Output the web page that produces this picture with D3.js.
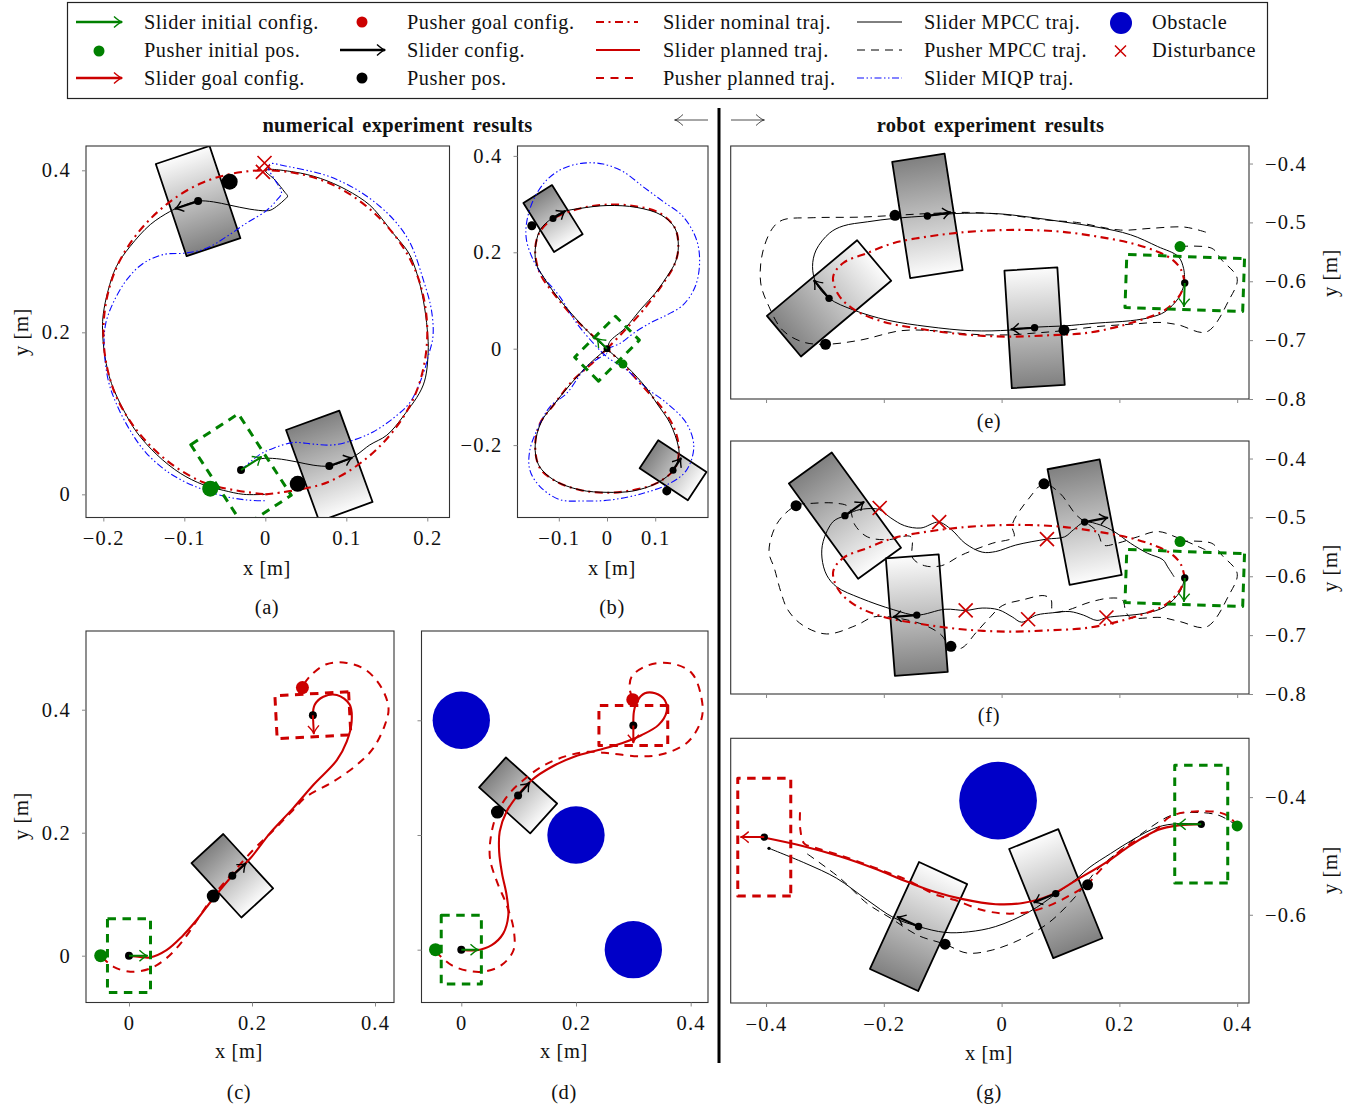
<!DOCTYPE html>
<html>
<head>
<meta charset="utf-8">
<script src="https://cdnjs.cloudflare.com/ajax/libs/d3/7.8.5/d3.min.js"></script>
<style>
	html, body { margin: 0; padding: 0; background: #fff; }
	svg { display: block; }
	text { font-family: "Liberation Serif", serif; fill: #111; }
</style>
</head>
<body>
<div id="chart"></div>
<script>
// panel (a) circle tracking [x, y] in metres
var aNominal = [[0,0],[0.077,0.015],[0.141,0.059],[0.185,0.123],[0.2,0.2],[0.185,0.277],[0.141,0.341],[0.077,0.385],[0,0.4],[-0.077,0.385],[-0.141,0.341],[-0.185,0.277],[-0.2,0.2],[-0.185,0.123],[-0.141,0.059],[-0.077,0.015],[0,0]];
var aMpcc = [[-0.03,0.03],[-0.017,0.039],[-0.005,0.044],[0.014,0.044],[0.039,0.04],[0.059,0.036],[0.079,0.035],[0.1,0.042],[0.113,0.049],[0.129,0.061],[0.15,0.073],[0.17,0.096],[0.195,0.135],[0.201,0.174],[0.2,0.203],[0.195,0.24],[0.187,0.273],[0.177,0.298],[0.158,0.322],[0.148,0.335],[0.129,0.357],[0.1,0.376],[0.068,0.39],[0.035,0.398],[0,0.4],[0.012,0.388],[0.024,0.373],[0.0275,0.368],[0.024,0.364],[0.016,0.357],[0.007,0.351],[0.001,0.35],[-0.019,0.352],[-0.044,0.357],[-0.064,0.361],[-0.083,0.362],[-0.105,0.355],[-0.118,0.349],[-0.142,0.333],[-0.167,0.306],[-0.184,0.281],[-0.194,0.252],[-0.2,0.223],[-0.201,0.203],[-0.198,0.17],[-0.19,0.137],[-0.175,0.104],[-0.159,0.077],[-0.134,0.049],[-0.105,0.026],[-0.077,0.012],[-0.052,0.005],[-0.027,0],[0,0]];
var aMiqp = [[-0.03,0.03],[-0.007,0.049],[0.01,0.057],[0.035,0.064],[0.059,0.062],[0.084,0.061],[0.109,0.067],[0.133,0.077],[0.158,0.094],[0.179,0.114],[0.195,0.149],[0.201,0.17],[0.207,0.195],[0.205,0.228],[0.195,0.265],[0.179,0.31],[0.162,0.335],[0.142,0.355],[0.113,0.376],[0.08,0.392],[0.051,0.4],[0.026,0.405],[0.006,0.408],[0.004,0.402],[0.012,0.388],[0.02,0.372],[0.014,0.363],[0.001,0.35],[-0.023,0.335],[-0.048,0.318],[-0.072,0.304],[-0.097,0.298],[-0.126,0.296],[-0.151,0.285],[-0.171,0.265],[-0.188,0.236],[-0.197,0.211],[-0.199,0.182],[-0.194,0.141],[-0.184,0.112],[-0.167,0.079],[-0.147,0.051],[-0.118,0.026],[-0.085,0.009],[-0.052,-0.002],[-0.023,-0.007],[0,-0.008]];
// sliders are [x, y, heading in degrees]
var aSliders = [[-0.083,0.362,198.5],[0.079,0.035,20]];
var aPushers = [[-0.044,0.386],[0.04,0.013]];
var aStart = [-0.03,0.03,33];
var aGreen = [-0.068,0.007];
var aCrosses = [[-0.001,0.409],[-0.003,0.398]];

// panel (b) figure eight
var bNominal = [[0,0],[0.034,0.035],[0.075,0.08],[0.117,0.136],[0.141,0.177],[0.148,0.212],[0.141,0.25],[0.11,0.281],[0.062,0.295],[0,0.299],[-0.056,0.291],[-0.111,0.27],[-0.139,0.243],[-0.149,0.205],[-0.139,0.156],[-0.111,0.115],[-0.07,0.066],[-0.035,0.032],[0,0],[0.041,-0.041],[0.075,-0.079],[0.117,-0.127],[0.141,-0.169],[0.149,-0.21],[0.141,-0.248],[0.103,-0.279],[0.055,-0.293],[0,-0.299],[-0.056,-0.293],[-0.104,-0.276],[-0.139,-0.248],[-0.149,-0.2],[-0.139,-0.155],[-0.111,-0.117],[-0.07,-0.065],[-0.035,-0.034],[0,0]];
var bMpcc = [[0,-0.003],[0.006,0.015],[0.037,0.042],[0.072,0.084],[0.1,0.115],[0.124,0.149],[0.142,0.18],[0.148,0.212],[0.141,0.25],[0.113,0.277],[0.062,0.293],[0,0.297],[-0.056,0.291],[-0.091,0.284],[-0.115,0.27],[-0.139,0.246],[-0.149,0.205],[-0.146,0.174],[-0.132,0.149],[-0.111,0.118],[-0.08,0.08],[-0.039,0.035],[0,-0.001],[0.041,-0.037],[0.082,-0.082],[0.103,-0.113],[0.131,-0.155],[0.148,-0.203],[0.149,-0.221],[0.138,-0.252],[0.103,-0.279],[0.055,-0.295],[0,-0.298],[-0.056,-0.293],[-0.111,-0.272],[-0.142,-0.241],[-0.149,-0.2],[-0.136,-0.151],[-0.111,-0.117],[-0.077,-0.075],[-0.035,-0.03],[0,0]];
var bMiqp = [[0,0],[0.027,0.011],[0.055,0.032],[0.089,0.053],[0.124,0.07],[0.158,0.091],[0.183,0.129],[0.192,0.177],[0.186,0.225],[0.158,0.274],[0.117,0.305],[0.075,0.336],[0.034,0.367],[-0.008,0.383],[-0.049,0.385],[-0.091,0.374],[-0.125,0.35],[-0.153,0.308],[-0.167,0.26],[-0.167,0.225],[-0.153,0.184],[-0.132,0.149],[-0.098,0.108],[-0.063,0.053],[-0.028,0.011],[0,-0.017],[0.041,-0.044],[0.082,-0.082],[0.124,-0.113],[0.165,-0.155],[0.18,-0.203],[0.165,-0.252],[0.131,-0.279],[0.075,-0.3],[0.006,-0.314],[-0.049,-0.316],[-0.098,-0.313],[-0.139,-0.286],[-0.16,-0.252],[-0.16,-0.21],[-0.142,-0.162],[-0.118,-0.12],[-0.084,-0.093],[-0.042,-0.037],[0,-0.01]];
var bSliders = [[-0.112,0.27,32],[0.137,-0.252,56.5]];
var bPushers = [[-0.156,0.255],[0.124,-0.295]];
var bStart = [0,0,135];
var bGreen = [0.033,-0.032];

// panel (c) planning without obstacles
var cSlider = [[0,0],[0.018,-0.002],[0.034,-0.003],[0.061,0.009],[0.086,0.031],[0.11,0.058],[0.137,0.093],[0.168,0.13],[0.197,0.158],[0.229,0.199],[0.267,0.24],[0.3,0.278],[0.338,0.318],[0.354,0.348],[0.362,0.38],[0.359,0.408],[0.338,0.424],[0.316,0.421],[0.302,0.408],[0.299,0.391]];
var cPusher = [[-0.044,-0.002],[-0.025,-0.018],[0.002,-0.026],[0.034,-0.021],[0.061,-0.004],[0.088,0.025],[0.118,0.069],[0.14,0.101],[0.168,0.134],[0.202,0.172],[0.235,0.204],[0.267,0.237],[0.289,0.259],[0.332,0.283],[0.37,0.31],[0.397,0.337],[0.416,0.375],[0.422,0.402],[0.411,0.435],[0.386,0.464],[0.354,0.476],[0.321,0.474],[0.294,0.454],[0.281,0.436]];
var cSliders = [[0.168,0.13,42.5]];
var cPushers = [[0.137,0.097]];
var cStart = [0,0,0];
var cGoal = [0.299,0.391,-87];
var cGreen = [-0.046,0];
var cRed = [0.282,0.436];

// panel (d) planning with obstacles
var dSlider = [[0,0],[0.027,-0.001],[0.053,0.008],[0.073,0.028],[0.082,0.06],[0.079,0.095],[0.071,0.133],[0.066,0.171],[0.067,0.206],[0.079,0.241],[0.099,0.27],[0.123,0.296],[0.158,0.319],[0.198,0.337],[0.239,0.348],[0.28,0.36],[0.314,0.374],[0.344,0.392],[0.358,0.415],[0.355,0.435],[0.338,0.447],[0.32,0.447],[0.306,0.432],[0.301,0.415],[0.3,0.391]];
var dPusher = [[-0.045,-0.003],[-0.017,-0.027],[0.012,-0.037],[0.041,-0.038],[0.07,-0.027],[0.091,-0.001],[0.091,0.037],[0.079,0.078],[0.062,0.119],[0.05,0.159],[0.052,0.2],[0.063,0.239],[0.082,0.27],[0.105,0.293],[0.14,0.319],[0.181,0.337],[0.221,0.345],[0.262,0.342],[0.314,0.337],[0.355,0.342],[0.396,0.363],[0.419,0.403],[0.419,0.438],[0.402,0.482],[0.367,0.499],[0.326,0.496],[0.297,0.476],[0.294,0.453],[0.3,0.435]];
var dSliders = [[0.099,0.269,48]];
var dPushers = [[0.063,0.24]];
var dStart = [0,0,0];
var dGoal = [0.3,0.391,-90];
var dGreen = [-0.045,0];
var dRed = [0.299,0.436];
var dObstacles = [[0,0.4,0.05],[0.2,0.2,0.05],[0.3,0,0.05]];

// robot nominal ellipse, shared by (e) and (f)
var robotNominal = [[0.311,-0.603],[0.305,-0.581],[0.291,-0.564],[0.265,-0.55],[0.219,-0.535],[0.162,-0.524],[0.104,-0.516],[0.047,-0.513],[0.001,-0.513],[-0.068,-0.517],[-0.125,-0.524],[-0.183,-0.535],[-0.228,-0.552],[-0.269,-0.569],[-0.286,-0.592],[-0.277,-0.623],[-0.249,-0.649],[-0.2,-0.669],[-0.137,-0.681],[-0.068,-0.69],[0.007,-0.694],[0.076,-0.692],[0.15,-0.687],[0.219,-0.671],[0.277,-0.649],[0.303,-0.623],[0.311,-0.603]];

var eMpcc = [[0.311,-0.603],[0.3,-0.629],[0.277,-0.652],[0.254,-0.661],[0.219,-0.667],[0.162,-0.671],[0.104,-0.676],[0.056,-0.678],[0.013,-0.683],[-0.051,-0.684],[-0.125,-0.677],[-0.194,-0.666],[-0.251,-0.649],[-0.293,-0.629],[-0.315,-0.603],[-0.321,-0.575],[-0.315,-0.547],[-0.292,-0.518],[-0.269,-0.506],[-0.228,-0.499],[-0.181,-0.493],[-0.126,-0.489],[-0.079,-0.485],[-0.01,-0.485],[0.047,-0.491],[0.104,-0.499],[0.162,-0.508],[0.219,-0.521],[0.265,-0.541],[0.3,-0.558],[0.309,-0.578],[0.311,-0.601]];
var ePusher = [[0.303,-0.541],[0.357,-0.544],[0.374,-0.564],[0.4,-0.595],[0.386,-0.632],[0.348,-0.686],[0.3,-0.674],[0.271,-0.67],[0.219,-0.673],[0.162,-0.677],[0.104,-0.684],[0.056,-0.688],[0.013,-0.691],[-0.051,-0.69],[-0.114,-0.684],[-0.171,-0.684],[-0.24,-0.7],[-0.299,-0.707],[-0.338,-0.703],[-0.372,-0.683],[-0.395,-0.643],[-0.409,-0.603],[-0.406,-0.552],[-0.389,-0.51],[-0.372,-0.496],[-0.32,-0.492],[-0.24,-0.491],[-0.181,-0.488],[-0.125,-0.485],[-0.056,-0.483],[0.007,-0.487],[0.076,-0.496],[0.127,-0.5],[0.202,-0.513],[0.254,-0.51],[0.311,-0.508],[0.348,-0.517]];
var eSliders = [[-0.126,-0.489,8.8],[-0.293,-0.629,130],[0.056,-0.679,183.6]];
var ePushers = [[-0.181,-0.488],[-0.299,-0.707],[0.106,-0.683]];
var eStart = [0.311,-0.603,-92];
var eGreen = [0.303,-0.541];

var fMpcc = [[0.311,-0.603],[0.303,-0.626],[0.277,-0.652],[0.242,-0.663],[0.179,-0.67],[0.162,-0.675],[0.139,-0.666],[0.116,-0.66],[0.087,-0.662],[0.059,-0.666],[0.034,-0.678],[0.018,-0.669],[-0.005,-0.657],[-0.033,-0.654],[-0.061,-0.658],[-0.096,-0.656],[-0.144,-0.666],[-0.183,-0.657],[-0.24,-0.637],[-0.28,-0.618],[-0.297,-0.598],[-0.305,-0.569],[-0.303,-0.541],[-0.286,-0.507],[-0.266,-0.497],[-0.246,-0.488],[-0.223,-0.485],[-0.207,-0.487],[-0.188,-0.501],[-0.165,-0.514],[-0.137,-0.518],[-0.107,-0.508],[-0.085,-0.521],[-0.062,-0.544],[-0.033,-0.559],[-0.01,-0.558],[0.024,-0.547],[0.076,-0.537],[0.107,-0.533],[0.122,-0.521],[0.141,-0.508],[0.168,-0.513],[0.191,-0.524],[0.219,-0.544],[0.248,-0.561],[0.274,-0.572],[0.282,-0.584],[0.293,-0.601]];
var fPusher = [[0.303,-0.541],[0.357,-0.544],[0.374,-0.564],[0.4,-0.595],[0.386,-0.632],[0.348,-0.686],[0.303,-0.677],[0.271,-0.67],[0.219,-0.67],[0.211,-0.66],[0.205,-0.64],[0.185,-0.637],[0.15,-0.644],[0.11,-0.658],[0.087,-0.66],[0.084,-0.64],[0.073,-0.633],[0.036,-0.64],[0.001,-0.65],[-0.019,-0.669],[-0.042,-0.694],[-0.068,-0.722],[-0.087,-0.722],[-0.102,-0.7],[-0.131,-0.683],[-0.177,-0.671],[-0.217,-0.669],[-0.246,-0.683],[-0.297,-0.698],[-0.338,-0.683],[-0.363,-0.657],[-0.375,-0.626],[-0.386,-0.586],[-0.395,-0.558],[-0.381,-0.51],[-0.349,-0.48],[-0.32,-0.476],[-0.28,-0.476],[-0.26,-0.482],[-0.249,-0.513],[-0.228,-0.533],[-0.194,-0.538],[-0.154,-0.533],[-0.151,-0.569],[-0.131,-0.582],[-0.102,-0.582],[-0.068,-0.564],[-0.016,-0.544],[0.021,-0.533],[0.018,-0.513],[0.047,-0.467],[0.072,-0.443],[0.099,-0.459],[0.127,-0.496],[0.162,-0.524],[0.173,-0.547],[0.196,-0.544],[0.231,-0.533],[0.265,-0.524],[0.3,-0.535],[0.346,-0.555]];
var fSliders = [[-0.266,-0.497,36],[0.141,-0.508,10.8],[-0.144,-0.666,184.4]];
var fPushers = [[-0.349,-0.48],[0.072,-0.443],[-0.086,-0.719]];
var fCrosses = [[-0.207,-0.484],[-0.106,-0.508],[0.077,-0.537],[-0.061,-0.658],[0.045,-0.673],[0.178,-0.67]];

var gSlider = [[0.339,-0.446],[0.3,-0.448],[0.265,-0.456],[0.219,-0.482],[0.179,-0.51],[0.127,-0.541],[0.082,-0.567],[0.036,-0.58],[-0.01,-0.582],[-0.068,-0.573],[-0.114,-0.561],[-0.16,-0.544],[-0.217,-0.521],[-0.274,-0.501],[-0.338,-0.483],[-0.402,-0.469]];
var gPusher = [[0.4,-0.449],[0.386,-0.433],[0.369,-0.426],[0.334,-0.424],[0.3,-0.428],[0.282,-0.436],[0.259,-0.459],[0.219,-0.479],[0.196,-0.496],[0.162,-0.53],[0.146,-0.548],[0.116,-0.567],[0.082,-0.584],[0.047,-0.595],[0.007,-0.598],[-0.033,-0.592],[-0.079,-0.575],[-0.114,-0.565],[-0.16,-0.541],[-0.194,-0.528],[-0.24,-0.511],[-0.28,-0.497],[-0.317,-0.486],[-0.335,-0.479],[-0.342,-0.453],[-0.342,-0.419]];
var gMpcc = [[0.339,-0.446],[0.3,-0.445],[0.265,-0.451],[0.225,-0.471],[0.185,-0.496],[0.15,-0.519],[0.127,-0.539],[0.093,-0.564],[0.047,-0.595],[-0.01,-0.62],[-0.056,-0.629],[-0.096,-0.63],[-0.141,-0.62],[-0.183,-0.605],[-0.228,-0.575],[-0.28,-0.538],[-0.332,-0.513],[-0.395,-0.487]];
var gMpccPusher = [[0.4,-0.449],[0.369,-0.431],[0.323,-0.426],[0.288,-0.431],[0.242,-0.459],[0.202,-0.49],[0.162,-0.524],[0.13,-0.564],[0.082,-0.612],[0.036,-0.64],[-0.016,-0.66],[-0.059,-0.665],[-0.096,-0.65],[-0.142,-0.635],[-0.188,-0.606],[-0.228,-0.581],[-0.274,-0.538],[-0.335,-0.493]];
var gSliders = [[0.092,-0.564,202],[-0.141,-0.62,155.4]];
var gPushers = [[0.146,-0.549],[-0.096,-0.65]];
var gStart = [0.339,-0.446,180];
var gGoal = [-0.403,-0.468,180];
var gGreen = [0.4,-0.449];
var gEnd = [-0.395,-0.487];
var gObstacles = [[-0.006,-0.406,0.066]];

// legend rows, one list per column
var legendCol1 = ["Slider initial config.", "Pusher initial pos.", "Slider goal config."];
var legendCol2 = ["Pusher goal config.", "Slider config.", "Pusher pos."];
var legendCol3 = ["Slider nominal traj.", "Slider planned traj.", "Pusher planned traj."];
var legendCol4 = ["Slider MPCC traj.", "Pusher MPCC traj.", "Slider MIQP traj."];
var legendCol5 = ["Obstacle", "Disturbance"];

var RED = "#cc0000", GREEN = "#008000", BLUE = "#0000c8", MIQP = "#0a0aff";
var STYLE = {
	nominal: {stroke: RED, width: 2.1, dash: "8,4.5,2,4.5"},
	planned: {stroke: RED, width: 2.1, dash: null},
	pusherPlanned: {stroke: RED, width: 2, dash: "8,6.5"},
	mpcc: {stroke: "#000", width: 1, dash: null},
	pusherMpcc: {stroke: "#000", width: 1, dash: "8,6"},
	miqp: {stroke: MIQP, width: 1.1, dash: "7,2.5,1.5,2.5,1.5,2.5"}
};

var svg = d3.select("#chart").append("svg").attr("width", 1363).attr("height", 1113);
var defs = svg.append("defs");
var gradId = 0, clipId = 0;

function tickText(d) {
	if (d === 0) return "0";
	return (d < 0 ? "\u2212" : "") + Math.abs(d).toFixed(1);
}

// corner of a slider box, local u along heading, v across it
function boxPoint(p, s, u, v) {
	var t = s[2] * Math.PI / 180;
	return [p.x(s[0] + Math.cos(t) * u - Math.sin(t) * v), p.y(s[1] + Math.sin(t) * u + Math.cos(t) * v)];
}

function boxPath(p, s) {
	var w = p.boxW / 2, h = p.boxH / 2;
	return d3.line()([boxPoint(p, s, -w, h), boxPoint(p, s, w, h), boxPoint(p, s, w, -h), boxPoint(p, s, -w, -h)]) + "Z";
}

function drawArrow(g, x1, y1, x2, y2, color, width, headWidth) {
	var a = Math.atan2(y2 - y1, x2 - x1);
	var back = 8, side = 5.5;
	var c = Math.cos(a), s = Math.sin(a);
	g.append("line").attr("x1", x1).attr("y1", y1).attr("x2", x2).attr("y2", y2)
		.attr("stroke", color).attr("stroke-width", width);
	var path = "M" + (x2 - back * c + side * s) + "," + (y2 - back * s - side * c) +
		"Q" + (x2 - 2 * c) + "," + (y2 - 2 * s) + " " + (x2 + 0.5 * c) + "," + (y2 + 0.5 * s) +
		"Q" + (x2 - 2 * c) + "," + (y2 - 2 * s) + " " + (x2 - back * c - side * s) + "," + (y2 - back * s + side * c);
	g.append("path").attr("d", path).attr("fill", "none").attr("stroke", color).attr("stroke-width", headWidth || 1.4);
}

function headingArrow(g, p, s, color, width) {
	var tip = boxPoint(p, s, p.arrowLen, 0);
	drawArrow(g, p.x(s[0]), p.y(s[1]), tip[0], tip[1], color, width);
}

function drawCross(g, cx, cy, r, width) {
	g.append("path")
		.attr("d", "M" + (cx - r) + "," + (cy - r) + "L" + (cx + r) + "," + (cy + r) + "M" + (cx - r) + "," + (cy + r) + "L" + (cx + r) + "," + (cy - r))
		.attr("stroke", RED).attr("stroke-width", width).attr("fill", "none");
}

function drawPanel(p) {
	p.x = d3.scaleLinear().domain(p.xDomain).range([p.left, p.right]);
	p.y = d3.scaleLinear().domain(p.yDomain).range([p.bottom, p.top]);

	var id = "clip" + (clipId++);
	defs.append("clipPath").attr("id", id).append("rect")
		.attr("x", p.left).attr("y", p.top)
		.attr("width", p.right - p.left).attr("height", p.bottom - p.top);
	var g = svg.append("g").attr("clip-path", "url(#" + id + ")");

	(p.obstacles || []).forEach(function (o) {
		g.append("circle").attr("cx", p.x(o[0])).attr("cy", p.y(o[1]))
			.attr("r", o[2] * (p.x(1) - p.x(0))).attr("fill", BLUE);
	});

	p.sliders.forEach(function (s) {
		var gid = "grad" + (gradId++);
		var dark = boxPoint(p, s, 0, p.boxH / 2), light = boxPoint(p, s, 0, -p.boxH / 2);
		var lg = defs.append("linearGradient").attr("id", gid).attr("gradientUnits", "userSpaceOnUse")
			.attr("x1", dark[0]).attr("y1", dark[1]).attr("x2", light[0]).attr("y2", light[1]);
		lg.append("stop").attr("offset", 0).attr("stop-color", "#808080");
		lg.append("stop").attr("offset", 1).attr("stop-color", "#fcfcfc");
		g.append("path").attr("d", boxPath(p, s)).attr("fill", "url(#" + gid + ")")
			.attr("stroke", "#000").attr("stroke-width", 1.8).attr("stroke-linejoin", "round");
	});

	var line = d3.line().x(function (d) { return p.x(d[0]); }).y(function (d) { return p.y(d[1]); })
		.curve(d3.curveCatmullRom.alpha(0.5));
	p.lines.forEach(function (l) {
		g.append("path").attr("d", line(l.data)).attr("fill", "none")
			.attr("stroke", l.style.stroke).attr("stroke-width", l.style.width)
			.attr("stroke-dasharray", l.style.dash);
	});

	[[p.start, GREEN], [p.goal, RED]].forEach(function (b) {
		if (!b[0]) return;
		g.append("path").attr("d", boxPath(p, b[0])).attr("fill", "none")
			.attr("stroke", b[1]).attr("stroke-width", 3)
			.attr("stroke-dasharray", "8.5,6.5").attr("stroke-linejoin", "round");
	});

	// pushers, slider centres, then the heading arrows
	p.pushers.forEach(function (d) {
		g.append("circle").attr("cx", p.x(d[0])).attr("cy", p.y(d[1])).attr("r", p.pusherR).attr("fill", "#000");
	});
	if (p.green) g.append("circle").attr("cx", p.x(p.green[0])).attr("cy", p.y(p.green[1])).attr("r", p.pusherR).attr("fill", GREEN);
	if (p.red) g.append("circle").attr("cx", p.x(p.red[0])).attr("cy", p.y(p.red[1])).attr("r", p.pusherR).attr("fill", RED);

	[p.start, p.goal].concat(p.sliders).forEach(function (s) {
		if (!s) return;
		g.append("circle").attr("cx", p.x(s[0])).attr("cy", p.y(s[1])).attr("r", p.centerR).attr("fill", "#000");
	});
	p.sliders.forEach(function (s) { headingArrow(g, p, s, "#000", 2.2); });
	if (p.start) headingArrow(g, p, p.start, GREEN, 2);
	if (p.goal) headingArrow(g, p, p.goal, RED, 2);
	if (p.end) g.append("circle").attr("cx", p.x(p.end[0])).attr("cy", p.y(p.end[1])).attr("r", 1.6).attr("fill", "#000");

	(p.crosses || []).forEach(function (d) { drawCross(g, p.x(d[0]), p.y(d[1]), 7, 1.7); });

	// frame and axes
	svg.append("rect").attr("x", p.left).attr("y", p.top)
		.attr("width", p.right - p.left).attr("height", p.bottom - p.top)
		.attr("fill", "none").attr("stroke", "#333").attr("stroke-width", 1.1);

	var ax = svg.append("g").attr("transform", "translate(0," + p.bottom + ")")
		.call(d3.axisBottom(p.x).tickValues(p.xTicks).tickSizeInner(4).tickSizeOuter(0).tickPadding(9)
			.tickFormat(p.xLabels ? tickText : ""));
	var yAxis = p.ySide == "right" ? d3.axisRight(p.y) : d3.axisLeft(p.y);
	var ay = svg.append("g").attr("transform", "translate(" + (p.ySide == "right" ? p.right : p.left) + ",0)")
		.call(yAxis.tickValues(p.yTicks).tickSizeInner(4).tickSizeOuter(0).tickPadding(p.ySide == "right" ? 12 : 11)
			.tickFormat(p.yLabels ? tickText : ""));
	[ax, ay].forEach(function (a) {
		a.select(".domain").remove();
		a.selectAll("line").attr("stroke", "#888");
		a.selectAll("text").style("font-family", "\"Liberation Serif\", serif").style("font-size", "20.5px")
			.style("letter-spacing", "1.2px").attr("fill", "#111");
	});
	ax.selectAll("text").attr("dy", "0.72em");
}

var numericBox = {boxW: 0.07, boxH: 0.12, arrowLen: 0.03};
var robotBox = {boxW: 0.09, boxH: 0.2, arrowLen: 0.04};

function panel(base, extra) {
	return Object.assign({}, base, extra);
}

// legend
svg.append("rect").attr("x", 67.5).attr("y", 2.5).attr("width", 1200).attr("height", 96)
	.attr("fill", "#fff").attr("stroke", "#222").attr("stroke-width", 1.2);

var rowY = [22, 50, 78];
function legendText(col, x) {
	col.forEach(function (t, i) {
		svg.append("text").attr("x", x).attr("y", rowY[i] + 6.5).attr("font-size", 20.3).attr("letter-spacing", 0.55).text(t);
	});
}
legendText(legendCol1, 144);
legendText(legendCol2, 407);
legendText(legendCol3, 663);
legendText(legendCol4, 924);
legendText(legendCol5, 1152);

drawArrow(svg, 76, rowY[0], 122, rowY[0], GREEN, 2.6);
svg.append("circle").attr("cx", 99).attr("cy", rowY[1] + 1).attr("r", 5.5).attr("fill", GREEN);
drawArrow(svg, 76, rowY[2], 122, rowY[2], RED, 2.6);
svg.append("circle").attr("cx", 362).attr("cy", rowY[0]).attr("r", 5.5).attr("fill", RED);
drawArrow(svg, 340, rowY[1], 385, rowY[1], "#000", 2.6);
svg.append("circle").attr("cx", 362).attr("cy", rowY[2]).attr("r", 5.5).attr("fill", "#000");

function legendLine(x1, x2, y, style) {
	svg.append("line").attr("x1", x1).attr("x2", x2).attr("y1", y).attr("y2", y)
		.attr("stroke", style.stroke).attr("stroke-width", Math.min(style.width, 1.8)).attr("stroke-dasharray", style.dash);
}
legendLine(596, 638, rowY[0], STYLE.nominal);
legendLine(596, 640, rowY[1], STYLE.planned);
legendLine(596, 638, rowY[2], STYLE.pusherPlanned);
legendLine(857, 902, rowY[0], STYLE.mpcc);
legendLine(857, 902, rowY[1], STYLE.pusherMpcc);
legendLine(857, 902, rowY[2], STYLE.miqp);
svg.append("circle").attr("cx", 1121).attr("cy", rowY[0] + 1).attr("r", 11).attr("fill", BLUE);
drawCross(svg, 1120.5, rowY[1] + 1, 5.5, 1.5);

// titles and the centre divider
svg.append("text").attr("x", 397.5).attr("y", 132).attr("text-anchor", "middle").attr("font-size", 20.5)
	.attr("font-weight", "bold").attr("letter-spacing", 0.3).attr("word-spacing", 3).text("numerical experiment results");
svg.append("text").attr("x", 990.5).attr("y", 132).attr("text-anchor", "middle").attr("font-size", 20.5)
	.attr("font-weight", "bold").attr("letter-spacing", 0.3).attr("word-spacing", 3).text("robot experiment results");
svg.append("line").attr("x1", 719).attr("x2", 719).attr("y1", 108).attr("y2", 1063).attr("stroke", "#000").attr("stroke-width", 3);
drawArrow(svg, 708, 120, 675, 120, "#222", 0.8, 0.8);
drawArrow(svg, 731, 120, 764, 120, "#222", 0.8, 0.8);

// panels
drawPanel(panel(numericBox, {
	left: 86, right: 449.5, top: 146, bottom: 517.5,
	xDomain: [-0.2214, 0.2274], yDomain: [-0.0286, 0.43],
	xTicks: [-0.2, -0.1, 0, 0.1, 0.2], yTicks: [0, 0.2, 0.4], xLabels: true, yLabels: true,
	sliders: aSliders, pushers: aPushers, start: aStart, green: aGreen, crosses: aCrosses,
	pusherR: 8, centerR: 4,
	lines: [{data: aMpcc, style: STYLE.mpcc}, {data: aMiqp, style: STYLE.miqp}, {data: aNominal, style: STYLE.nominal}]
}));
drawPanel(panel(numericBox, {
	left: 517.5, right: 708, top: 146, bottom: 517.5,
	xDomain: [-0.1857, 0.2095], yDomain: [-0.3502, 0.4205],
	xTicks: [-0.1, 0, 0.1], yTicks: [-0.2, 0, 0.2, 0.4], xLabels: true, yLabels: true,
	sliders: bSliders, pushers: bPushers, start: bStart, green: bGreen,
	pusherR: 4.5, centerR: 3.5,
	lines: [{data: bNominal, style: STYLE.nominal}, {data: bMiqp, style: STYLE.miqp}, {data: bMpcc, style: STYLE.mpcc}]
}));
drawPanel(panel(numericBox, {
	left: 86, right: 394, top: 631, bottom: 1002.5,
	xDomain: [-0.0699, 0.4309], yDomain: [-0.0761, 0.528],
	xTicks: [0, 0.2, 0.4], yTicks: [0, 0.2, 0.4], xLabels: true, yLabels: true,
	sliders: cSliders, pushers: cPushers, start: cStart, goal: cGoal, green: cGreen, red: cRed,
	pusherR: 6.5, centerR: 4,
	lines: [{data: cPusher, style: STYLE.pusherPlanned}, {data: cSlider, style: STYLE.planned}]
}));
drawPanel(panel(numericBox, {
	left: 421.5, right: 708, top: 631, bottom: 1002.5,
	xDomain: [-0.0694, 0.4302], yDomain: [-0.0921, 0.5557],
	xTicks: [0, 0.2, 0.4], yTicks: [0, 0.2, 0.4], xLabels: true, yLabels: false,
	sliders: dSliders, pushers: dPushers, start: dStart, goal: dGoal, green: dGreen, red: dRed, obstacles: dObstacles,
	pusherR: 6.5, centerR: 4,
	lines: [{data: dPusher, style: STYLE.pusherPlanned}, {data: dSlider, style: STYLE.planned}]
}));

var robotX = [-0.4, -0.2, 0, 0.2, 0.4];
var robotY = [-0.4, -0.5, -0.6, -0.7, -0.8];
drawPanel(panel(robotBox, {
	left: 730.7, right: 1249, top: 146, bottom: 399,
	xDomain: [-0.46, 0.4201], yDomain: [-0.8, -0.3702], ySide: "right",
	xTicks: robotX, yTicks: robotY, xLabels: false, yLabels: true,
	sliders: eSliders, pushers: ePushers, start: eStart, green: eGreen,
	pusherR: 5.5, centerR: 3.7,
	lines: [{data: ePusher, style: STYLE.pusherMpcc}, {data: eMpcc, style: STYLE.mpcc}, {data: robotNominal, style: STYLE.nominal}]
}));
drawPanel(panel(robotBox, {
	left: 730.7, right: 1249, top: 441, bottom: 694,
	xDomain: [-0.46, 0.4201], yDomain: [-0.8, -0.3702], ySide: "right",
	xTicks: robotX, yTicks: robotY, xLabels: false, yLabels: true,
	sliders: fSliders, pushers: fPushers, start: eStart, green: eGreen, crosses: fCrosses,
	pusherR: 5.5, centerR: 3.7,
	lines: [{data: fPusher, style: STYLE.pusherMpcc}, {data: fMpcc, style: STYLE.mpcc}, {data: robotNominal, style: STYLE.nominal}]
}));
drawPanel(panel(robotBox, {
	left: 730.7, right: 1249, top: 738.3, bottom: 1003,
	xDomain: [-0.46, 0.4201], yDomain: [-0.75, -0.3], ySide: "right",
	xTicks: robotX, yTicks: [-0.4, -0.6], xLabels: true, yLabels: true,
	sliders: gSliders, pushers: gPushers, start: gStart, goal: gGoal, green: gGreen, obstacles: gObstacles, end: gEnd,
	pusherR: 5.5, centerR: 3.7,
	lines: [{data: gMpccPusher, style: STYLE.pusherMpcc}, {data: gMpcc, style: STYLE.mpcc}, {data: gPusher, style: STYLE.pusherPlanned}, {data: gSlider, style: STYLE.planned}]
}));

// axis names and captions
function label(x, y, t, rotate) {
	var e = svg.append("text").attr("text-anchor", "middle").attr("font-size", 20.5).attr("letter-spacing", 0.6).text(t);
	if (rotate) e.attr("transform", "translate(" + x + "," + y + ") rotate(-90)");
	else e.attr("x", x).attr("y", y);
}
label(267, 575, "x [m]");
label(612, 575, "x [m]");
label(239, 1058, "x [m]");
label(564, 1058, "x [m]");
label(989, 1060, "x [m]");
label(28, 332, "y [m]", true);
label(28, 816, "y [m]", true);
label(1337, 273, "y [m]", true);
label(1337, 568, "y [m]", true);
label(1337, 870, "y [m]", true);
label(267, 614, "(a)");
label(612, 614, "(b)");
label(239, 1099, "(c)");
label(564, 1099, "(d)");
label(989, 428, "(e)");
label(989, 722, "(f)");
label(989, 1099, "(g)");
</script>
</body>
</html>
